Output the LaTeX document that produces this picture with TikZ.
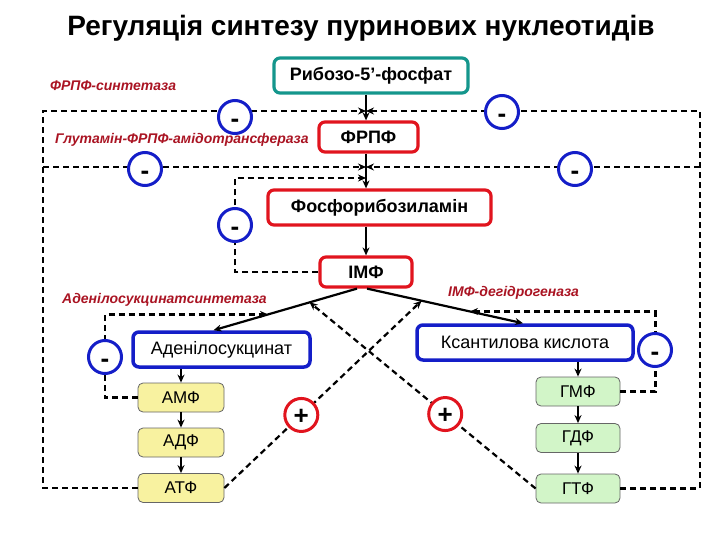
\documentclass[tikz,border=0pt]{standalone}
\usepackage{fontspec}
\setmainfont{Liberation Sans}
\usetikzlibrary{arrows.meta,calc}
\definecolor{tealb}{RGB}{20,150,140}
\definecolor{redb}{RGB}{225,20,30}
\definecolor{blueb}{RGB}{20,30,200}
\definecolor{enz}{RGB}{170,20,35}
\definecolor{yel}{RGB}{248,242,160}
\definecolor{grn}{RGB}{210,245,200}
\begin{document}
\begin{tikzpicture}[x=1pt,y=-1pt,
  bigbox/.style={draw, rounded corners=6pt, line width=3.2pt, fill=white, inner sep=0pt, font=\fontsize{18}{20}\selectfont\bfseries},
  bluebox/.style={draw=blueb, rounded corners=6pt, line width=3.5pt, fill=white, inner sep=0pt, font=\fontsize{18}{20}\selectfont, minimum height=35},
  smallbox/.style={draw=black!60, rounded corners=5pt, line width=0.8pt, inner sep=0pt, font=\fontsize{17}{19}\selectfont, minimum width=86, minimum height=29},
  enzlabel/.style={anchor=west, text=enz, font=\fontsize{14}{16}\selectfont\bfseries\itshape, inner sep=0pt},
  arr/.style={line width=2.2pt, -{Stealth[length=8pt,width=7pt]}},
  dsh/.style={line width=2.2pt, dash pattern=on 6pt off 4pt},
  dsharr/.style={dsh, -{Stealth[length=8pt,width=7pt]}},
  minus/.style={circle, draw=blueb, line width=3pt, fill=white, minimum size=33, inner sep=0pt, text height=0pt, text depth=0pt, font=\fontsize{26}{26}\selectfont\bfseries},
  plus/.style={circle, draw=redb, line width=3pt, fill=white, minimum size=33, inner sep=0pt, text height=0pt, text depth=0pt, font=\fontsize{26}{26}\selectfont\bfseries}
]
\useasboundingbox[fill=white] (0,0) rectangle (720,540);

\node[font=\fontsize{28}{30}\selectfont\bfseries] (title) at (361,28) {Регуляція синтезу пуринових нуклеотидів};

% main chain
\node[bigbox, draw=tealb, minimum width=194, minimum height=35] (rib) at (371,75.5) {Рибозо-5'-фосфат};
\node[bigbox, draw=redb, minimum width=99, minimum height=30] (frpf) at (368.5,137) {ФРПФ};
\node[bigbox, draw=redb, minimum width=223, minimum height=35] (phos) at (379.5,207.5) {Фосфорибозиламін};
\node[bigbox, draw=redb, minimum width=92, minimum height=30] (imp) at (366,272) {ІМФ};

\node[bluebox, minimum width=177] (adl) at (221.5,349.5) {Аденілосукцинат};
\node[bluebox, minimum width=216] (xan) at (525,342.5) {Ксантилова кислота};

\node[smallbox, fill=yel] (amp) at (181,397.5) {АМФ};
\node[smallbox, fill=yel] (adp) at (181,442.5) {АДФ};
\node[smallbox, fill=yel] (atp) at (181,488) {АТФ};
\node[smallbox, fill=grn, minimum width=84] (gmp) at (578,391.5) {ГМФ};
\node[smallbox, fill=grn, minimum width=84] (gdp) at (578,438) {ГДФ};
\node[smallbox, fill=grn, minimum width=84] (gtp) at (578,488.5) {ГТФ};

% enzyme labels
\node[enzlabel] (e1) at (50,86) {ФРПФ-синтетаза};
\node[enzlabel] (e2) at (55,140) {Глутамін-ФРПФ-амідотрансфераза};
\node[enzlabel] (e3) at (62,300) {Аденілосукцинатсинтетаза};
\node[enzlabel] (e4) at (448,293) {ІМФ-дегідрогеназа};

% solid arrows
\draw[arr] (rib.south -| imp) -- (frpf.north -| imp);
\draw[arr] (frpf.south -| imp) -- (phos.north -| imp);
\draw[arr] (phos.south -| imp) -- (imp.north);
\coordinate (s1) at ($(imp.south)+(-9,0)$);
\coordinate (s2) at ($(imp.south)+(1,0)$);
\coordinate (t1) at ($(adl.north)+(-8,0)$);
\coordinate (t2) at ($(xan.north)+(-2,0)$);
\draw[arr] (s1) -- (t1);
\draw[arr] (s2) -- (t2);
\draw[arr] (adl.south -| amp) -- (amp.north);
\draw[arr] (amp) -- (adp);
\draw[arr] (adp) -- (atp);
\draw[arr] (xan.south -| gmp) -- (gmp.north);
\draw[arr] (gmp) -- (gdp);
\draw[arr] (gdp) -- (gtp);

\coordinate (p1) at ($(s1)!0.62!(t1)$);
\coordinate (p2) at ($(s2)!0.66!(t2)$);
\coordinate (p3) at ($(s2)!0.35!(t2)$);
\coordinate (p4) at ($(s1)!0.33!(t1)$);

% big feedback loops
\coordinate (j1) at (366,111);
\coordinate (j2) at (366,167);
\coordinate (j3) at (366,178);
\coordinate (L1) at (43,111);
\coordinate (L2) at (43,167);
\coordinate (R1) at (700,111);
\coordinate (R2) at (700,167);
\draw[dsharr] (atp.west) -| (L1) -- (j1);
\draw[dsharr] (L2) -- (j2);
\draw[dsharr] (gtp.east) -| (R1) -- (j1);
\draw[dsharr] (R2) -- (j2);
\draw[dsharr] (imp.west) -| (235,178) -- (j3);
\draw[dsharr] (amp.west) -- ++(-33,0) |- (p1);
\draw[dsharr] (gmp.east) -- ++(35,0) coordinate (gq) -- (gq |- p2) -- (p2);
\draw[dsharr] (atp.east) -- (p3);
\draw[dsharr] (gtp.west) -- (p4);

% regulators
\node[minus] (m1) at (235,117) {\raisebox{-0.4em}{-}};
\node[minus] (m2) at (145,169) {\raisebox{-0.4em}{-}};
\node[minus] (m3) at (502,112) {\raisebox{-0.4em}{-}};
\node[minus] (m4) at (575,169) {\raisebox{-0.4em}{-}};
\node[minus] (m5) at (235,225) {\raisebox{-0.4em}{-}};
\node[minus] (m6) at (105,357) {\raisebox{-0.4em}{-}};
\node[minus] (m7) at (655,350) {\raisebox{-0.4em}{-}};
\node[plus] (pl1) at ($(atp.east)!0.39!(p3)$) {\raisebox{-0.36em}{+}};
\node[plus] (pl2) at ($(gtp.west)!0.40!(p4)$) {\raisebox{-0.36em}{+}};
\end{tikzpicture}
\end{document}
